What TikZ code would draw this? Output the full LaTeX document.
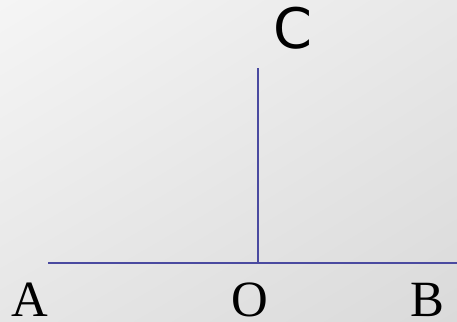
\documentclass[tikz,border=0pt]{standalone}
\usepackage{fontspec}
\setmainfont{Liberation Serif}
\newfontfamily\csans{DejaVu Sans}
\usetikzlibrary{shadings}
\definecolor{linecol}{RGB}{74,74,160}
\definecolor{bgul}{RGB}{245,245,245}
\definecolor{bgur}{RGB}{232,232,232}
\definecolor{bgll}{RGB}{230,230,230}
\definecolor{bglr}{RGB}{218,218,218}
\begin{document}
\begin{tikzpicture}[x=1bp,y=-1bp,
  seg/.style={draw=linecol,line width=1.8bp},
  serlab/.style={inner sep=0pt,anchor=base,font=\fontsize{51}{51}\selectfont},
  sanlab/.style={inner sep=0pt,anchor=base,font=\csans\fontsize{56}{56}\selectfont}]
\shade[upper left=bgul,upper right=bgur,lower left=bgll,lower right=bglr]
 (0,0) rectangle (457,321);
\useasboundingbox (0,0) rectangle (457,321);
\coordinate (left) at (48,263);
\coordinate (right) at (457,263);
\coordinate (O) at (258,263);
\coordinate (top) at (258,68);
\draw[seg] (left) -- (right);
\draw[seg] (O) -- (top);
\node[sanlab] (c) at (293,48) {C};
\node[serlab] (a) at (29.5,316.5) {A};
\node[serlab] (o) at (249.5,316.5) {O};
\node[serlab] (b) at (427.5,316.5) {B};
\end{tikzpicture}
\end{document}
